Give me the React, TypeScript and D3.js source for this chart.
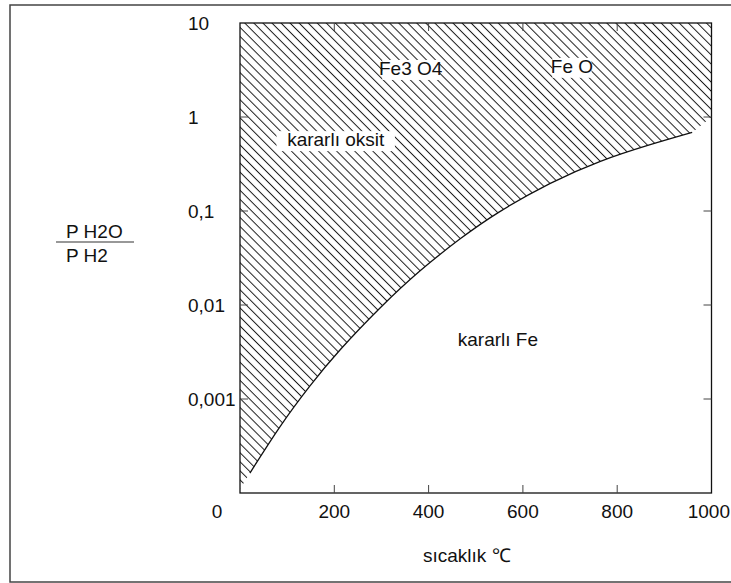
import React from 'react'
import * as d3 from 'd3'

// equilibrium curve Fe / Fe-oxide
const curveTemp = [21, 85, 148, 212, 297, 382, 467, 551, 657, 763, 870, 959]
const curveRatio = [1.63e-4, 5.09e-4, 1.37e-3, 3.32e-3, 9.29e-3, 0.0231, 0.0506, 0.0986, 0.1955, 0.336, 0.508, 0.686]

// where the hatched (oxide) area leaves the curve at both ends
const hatchTop: [number, number][] = [[0, 10], [1000, 10], [1000, 1.0]]
const hatchBottom: [number, number][] = [[0, 1.1e-4]]

const xTicks = [200, 400, 600, 800]
const xTickLabels = ['0', '200', '400', '600', '800', '1000']
const xLabelValues = [0, 200, 400, 600, 800, 1000]
const yTicks = [1, 0.1, 0.01, 0.001]
const yTickLabels = ['10', '1', '0,1', '0,01', '0,001']
const yLabelValues = [10, 1, 0.1, 0.01, 0.001]

const regionLabels = [
  { text: 'Fe3 O4', t: 362, r: 2.8, bg: true },
  { text: 'Fe O', t: 704, r: 2.95, bg: true },
  { text: 'kararlı oksit', t: 203, r: 0.49, bg: true },
  { text: 'kararlı Fe', t: 547, r: 0.0037, bg: false },
]

const W = 731
const H = 583
const FONT = '"Liberation Sans", Arial, Helvetica, sans-serif'
const FS = 19

export default function App() {
  const x = d3.scaleLinear().domain([0, 1000]).range([240, 711.5])
  const y = d3.scaleLog().domain([1e-4, 10]).range([493, 23])

  const curvePts: [number, number][] = curveTemp.map((t, i) => [t, curveRatio[i]])
  const line = d3.line<[number, number]>()
    .x(d => x(d[0]))
    .y(d => y(d[1]))
    .curve(d3.curveNatural)

  const curvePath = line(curvePts) || ''
  // region = straight edges + the curve walked backwards
  const back = curvePts.slice().reverse().map(d => [x(d[0]), y(d[1])] as [number, number])
  const regionPath =
    'M' + hatchTop.map(d => x(d[0]) + ',' + y(d[1])).join('L') +
    'L' + (d3.line().curve(d3.curveNatural)(back) || '').slice(1) +
    'L' + hatchBottom.map(d => x(d[0]) + ',' + y(d[1])).join('L') + 'Z'

  const x0 = x(0), x1 = x(1000), y0 = y(1e-4), y1 = y(10)
  const tickLen = 8

  return (
    <div style={{ position: 'fixed', left: 0, top: 0, width: W, height: H, background: '#fff' }}>
      <svg width={W} height={H} style={{ display: 'block' }} fontFamily={FONT}>
        <defs>
          <pattern id="hatch" patternUnits="userSpaceOnUse" width={10} height={6.4}
            patternTransform="rotate(45)">
            <line x1={0} y1={3.2} x2={10} y2={3.2} stroke="#1a1a1a" strokeWidth={1} />
          </pattern>
        </defs>

        {/* outer frame */}
        <rect x={10} y={5} width={W + 20} height={577} fill="none" stroke="#444" strokeWidth={1.5} />

        {/* hatched oxide region */}
        <path d={regionPath} fill="url(#hatch)" stroke="none" />
        <path d={curvePath} fill="none" stroke="#111" strokeWidth={1.3} />

        {/* plot box */}
        <rect x={x0} y={y1} width={x1 - x0} height={y0 - y1} fill="none" stroke="#111" strokeWidth={1.3} />

        {/* ticks, all inward */}
        {xTicks.map(t => (
          <g key={'xt' + t} stroke="#444" strokeWidth={1}>
            <line x1={x(t)} x2={x(t)} y1={y0} y2={y0 - tickLen} />
            <line x1={x(t)} x2={x(t)} y1={y1} y2={y1 + tickLen} />
          </g>
        ))}
        {yTicks.map(t => (
          <g key={'yt' + t} stroke="#444" strokeWidth={1}>
            <line x1={x0} x2={x0 + tickLen} y1={y(t)} y2={y(t)} />
            <line x1={x1} x2={x1 - tickLen} y1={y(t)} y2={y(t)} />
          </g>
        ))}

        {/* tick labels */}
        {xLabelValues.map((v, i) => {
          const last = i === xLabelValues.length - 1
          const lx = v === 0 ? x(v) - 23 : last ? W - 1 : x(v)
          return (
            <text key={'xl' + v} x={lx} y={518} fontSize={FS}
              textAnchor={last ? 'end' : 'middle'} fill="#111">{xTickLabels[i]}</text>
          )
        })}
        {yLabelValues.map((v, i) => (
          <text key={'yl' + v} x={188} y={y(v) + 7} fontSize={FS} fill="#111">{yTickLabels[i]}</text>
        ))}

        {/* region labels, white behind them where hatched */}
        {regionLabels.map(l => {
          const w = l.text.length * 8.8
          return (
            <g key={l.text}>
              {l.bg && (
                <rect x={x(l.t) - w / 2 - 2} y={y(l.r) - 15} width={w + 4} height={20} fill="#fff" />
              )}
              <text x={x(l.t)} y={y(l.r)} fontSize={FS} textAnchor="middle" fill="#111">{l.text}</text>
            </g>
          )
        })}

        {/* axis titles */}
        <text x={423} y={562} fontSize={FS} fill="#111">sıcaklık ℃</text>
        <text x={66} y={238} fontSize={FS} fill="#111">P H2O</text>
        <line x1={56} x2={134} y1={242} y2={242} stroke="#333" strokeWidth={1.2} />
        <text x={66} y={262} fontSize={FS} fill="#111">P H2</text>
      </svg>
    </div>
  )
}
